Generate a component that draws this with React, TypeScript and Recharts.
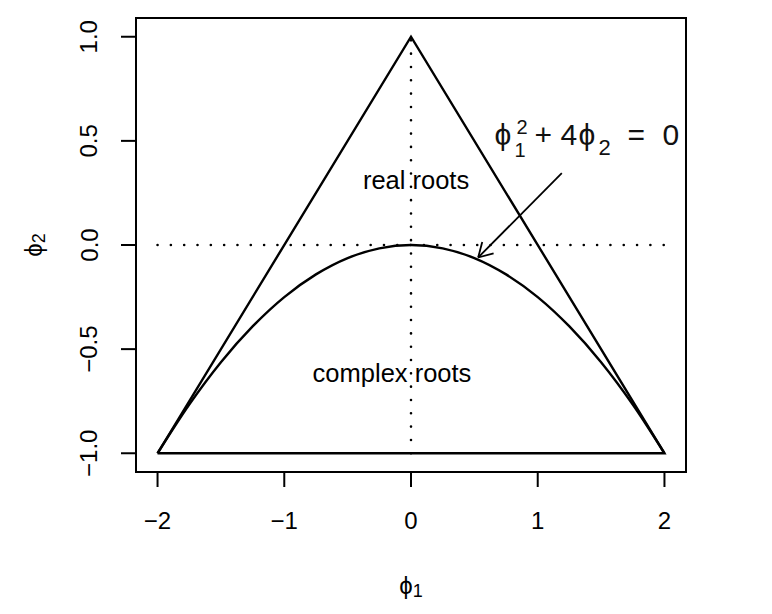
import React from "react";
import {
  ComposedChart,
  Line,
  XAxis,
  YAxis,
  ReferenceLine,
  ReferenceArea,
  ReferenceDot,
} from "recharts";

// Triangle (stationarity region)
const triangleX = [-2, 0, 2, -2];
const triangleY = [-1, 1, -1, -1];

// Boundary curve phi1^2 + 4 phi2 = 0
const curveX = [-2, -1.75, -1.5, -1.25, -1, -0.75, -0.5, -0.25, 0, 0.25, 0.5, 0.75, 1, 1.25, 1.5, 1.75, 2];
const curveY = [-1, -0.766, -0.5625, -0.391, -0.25, -0.141, -0.0625, -0.016, 0, -0.016, -0.0625, -0.141, -0.25, -0.391, -0.5625, -0.766, -1];

const xTicks = [-2, -1, 0, 1, 2];
const yTicks = [-1, -0.5, 0, 0.5, 1];
const xDomain = [-2.17, 2.17];
const yDomain = [-1.09, 1.09];

const arrowFrom = { x: 1.19, y: 0.345 };
const arrowTo = { x: 0.53, y: -0.06 };
const realLabel = { x: 0.04, y: 0.31, text: "real roots" };
const complexLabel = { x: -0.15, y: -0.615, text: "complex roots" };
const eqAnchor = { x: 0.659, y: 0.48 };

const triangleData = triangleX.map((x, i) => ({ x, y: triangleY[i] }));
const curveData = curveX.map((x, i) => ({ x, y: curveY[i] }));

const FONT = "'Liberation Sans', Arial, Helvetica, sans-serif";
const PHI = "\u03D5";

const fmt = (v: number) => v.toFixed(1).replace("-", "\u2212");
const fmtX = (v: number) => String(v).replace("-", "\u2212");

const XTick = (props: any) => {
  const { x, y, payload } = props;
  return (
    <text x={x} y={y + 33} textAnchor="middle" dominantBaseline="central" fontFamily={FONT} fontSize={24} fill="#000">
      {fmtX(payload.value)}
    </text>
  );
};

const YTick = (props: any) => {
  const { x, y, payload } = props;
  const cx = x - 32;
  return (
    <text
      x={cx}
      y={y}
      textAnchor="middle"
      dominantBaseline="central"
      fontFamily={FONT}
      fontSize={24}
      fill="#000"
      transform={`rotate(-90, ${cx}, ${y})`}
    >
      {fmt(payload.value)}
    </text>
  );
};

const ArrowShape = (props: any) => {
  const { x1, y1, x2, y2 } = props;
  const ang = Math.atan2(y2 - y1, x2 - x1);
  const L = 16;
  const a1 = ang + Math.PI - Math.PI / 6;
  const a2 = ang + Math.PI + Math.PI / 6;
  return (
    <g>
      <line x1={x1} y1={y1} x2={x2} y2={y2} stroke="#000" strokeWidth={1.8} />
      <line x1={x2} y1={y2} x2={x2 + L * Math.cos(a1)} y2={y2 + L * Math.sin(a1)} stroke="#000" strokeWidth={1.8} />
      <line x1={x2} y1={y2} x2={x2 + L * Math.cos(a2)} y2={y2 + L * Math.sin(a2)} stroke="#000" strokeWidth={1.8} />
    </g>
  );
};

const textShape = (label: string) => (props: any) => {
  const { cx, cy } = props;
  return (
    <text x={cx} y={cy} textAnchor="middle" dominantBaseline="central" fontFamily={FONT} fontSize={25.5} fill="#000">
      {label}
    </text>
  );
};

const EquationShape = (props: any) => {
  const { cx, cy } = props;
  const big = 30;
  const small = 20;
  return (
    <text fontFamily={FONT} fill="#111" textAnchor="start">
      <tspan x={cx} y={cy} fontSize={big}>{PHI}</tspan>
      <tspan x={cx + 20} y={cy + 12} fontSize={small}>1</tspan>
      <tspan x={cx + 22} y={cy - 11} fontSize={small}>2</tspan>
      <tspan x={cx + 40} y={cy} fontSize={big}>+</tspan>
      <tspan x={cx + 66} y={cy} fontSize={big}>4</tspan>
      <tspan x={cx + 84} y={cy} fontSize={big}>{PHI}</tspan>
      <tspan x={cx + 104} y={cy + 10} fontSize={22}>2</tspan>
      <tspan x={cx + 133} y={cy} fontSize={big}>=</tspan>
      <tspan x={cx + 168} y={cy} fontSize={big}>0</tspan>
    </text>
  );
};

const XLabel = (props: any) => {
  const vb = props.viewBox || {};
  const cx = vb.x + vb.width / 2;
  const cy = vb.y + 113;
  return (
    <text x={cx} y={cy} textAnchor="middle" dominantBaseline="central" fontFamily={FONT} fill="#000">
      <tspan fontSize={24}>{PHI}</tspan>
      <tspan fontSize={18} dy={6}>1</tspan>
    </text>
  );
};

const YLabel = (props: any) => {
  const vb = props.viewBox || {};
  const cx = 25;
  const cy = vb.y + vb.height / 2;
  return (
    <text
      x={cx}
      y={cy}
      textAnchor="middle"
      dominantBaseline="central"
      fontFamily={FONT}
      fill="#000"
      transform={`rotate(-90, ${cx}, ${cy})`}
    >
      <tspan fontSize={24}>{PHI}</tspan>
      <tspan fontSize={18} dy={6}>2</tspan>
    </text>
  );
};

export default function App() {
  return (
    <div style={{ width: 764, height: 600, background: "#fff" }}>
      <ComposedChart width={764} height={600} margin={{ top: 10, right: 86, bottom: 0, left: 0 }}>
        <XAxis
          type="number"
          dataKey="x"
          domain={xDomain}
          ticks={xTicks}
          allowDataOverflow
          axisLine={false}
          tickLine={{ stroke: "#000", strokeWidth: 2 }}
          tickSize={15}
          tickMargin={0}
          height={136}
          tick={<XTick />}
          interval={0}
          label={<XLabel />}
        />
        <YAxis
          type="number"
          dataKey="y"
          domain={yDomain}
          ticks={yTicks}
          allowDataOverflow
          axisLine={false}
          tickLine={{ stroke: "#000", strokeWidth: 2 }}
          tickSize={15}
          tickMargin={0}
          width={128}
          tick={<YTick />}
          interval={0}
          label={<YLabel />}
        />
        <ReferenceArea
          x1={xDomain[0]}
          x2={xDomain[1]}
          y1={yDomain[0]}
          y2={yDomain[1]}
          fill="none"
          fillOpacity={0}
          stroke="#000"
          strokeWidth={2}
          ifOverflow="visible"
        />
        <ReferenceLine
          segment={[{ x: -2, y: 0 }, { x: 2, y: 0 }]}
          stroke="#000"
          strokeWidth={2.6}
          strokeDasharray="0.01 13.31"
          strokeLinecap="round"
        />
        <ReferenceLine
          segment={[{ x: 0, y: -1 }, { x: 0, y: 1 }]}
          stroke="#000"
          strokeWidth={2.6}
          strokeDasharray="0.01 13.31"
          strokeLinecap="round"
        />
        <Line
          data={triangleData}
          dataKey="y"
          type="linear"
          stroke="#000"
          strokeWidth={2.4}
          dot={false}
          activeDot={false}
          isAnimationActive={false}
        />
        <Line
          data={curveData}
          dataKey="y"
          type="monotone"
          stroke="#000"
          strokeWidth={2.4}
          dot={false}
          activeDot={false}
          isAnimationActive={false}
        />
        <ReferenceLine segment={[arrowFrom, arrowTo]} shape={<ArrowShape />} />
        <ReferenceDot x={realLabel.x} y={realLabel.y} r={0} shape={textShape(realLabel.text)} />
        <ReferenceDot x={complexLabel.x} y={complexLabel.y} r={0} shape={textShape(complexLabel.text)} />
        <ReferenceDot x={eqAnchor.x} y={eqAnchor.y} r={0} shape={EquationShape} />
      </ComposedChart>
    </div>
  );
}
